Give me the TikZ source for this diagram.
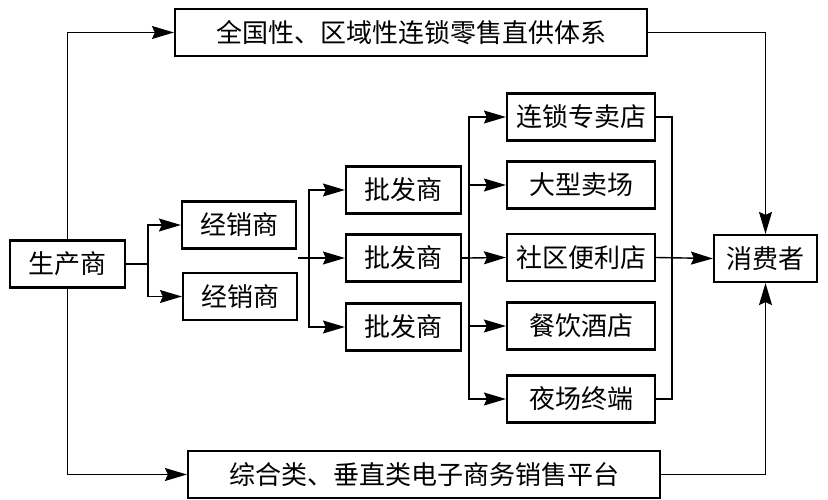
\documentclass[tikz,border=0pt]{standalone}
\usepackage{fontspec}
\newfontfamily\cjk{Noto Sans CJK SC}
\usetikzlibrary{arrows.meta}
\tikzset{
  box/.style={draw,line width=2.2pt,inner sep=0pt,minimum height=47pt,font=\cjk\fontsize{26}{30}\selectfont},
  conn/.style={line width=1.4pt},
  arr/.style={conn,arrows={-Stealth[length=22pt,width=13pt,inset=3pt]}}
}
\begin{document}
\begin{tikzpicture}[x=1pt,y=-1pt]
\useasboundingbox (0,0) rectangle (828,500);
% nodes
\node[box,minimum width=115pt] (prod) at (67.5,264) {生产商};
\node[box,minimum width=472pt] (top) at (411,32.5) {全国性、区域性连锁零售直供体系};
\node[box,minimum width=472pt] (bot) at (424,474.5) {综合类、垂直类电子商务销售平台};
\node[box,minimum width=114pt] (d1) at (239,225) {经销商};
\node[box,minimum width=114pt] (d2) at (240,296.5) {经销商};
\node[box,minimum width=115pt] (w1) at (403.5,190) {批发商};
\node[box,minimum width=115pt] (w2) at (403.5,258) {批发商};
\node[box,minimum width=115pt] (w3) at (403.5,327) {批发商};
\node[box,minimum width=148pt] (r1) at (581,117) {连锁专卖店};
\node[box,minimum width=148pt] (r2) at (581,185) {大型卖场};
\node[box,minimum width=148pt] (r3) at (581,257.5) {社区便利店};
\node[box,minimum width=148pt] (r4) at (581,326) {餐饮酒店};
\node[box,minimum width=148pt] (r5) at (581,399) {夜场终端};
\node[box,minimum width=103pt] (cons) at (765.5,258.5) {消费者};
% junction coordinates
\coordinate (j1) at (148,264);
\coordinate (s2) at (298,258);
\coordinate (j2) at (309,258);
\coordinate (j3) at (469,258);
\coordinate (j4) at (672,257.5);
% connectors
\draw[arr] (prod.north) |- (top.west);
\draw[arr] (prod.south) |- (bot.west);
\draw[conn] (prod.east) -- (j1);
\draw[arr] (j1) |- (d1.west);
\draw[arr] (j1) |- (d2.west);
\draw[arr] (s2) -- (w2.west);
\draw[arr] (j2) |- (w1.west);
\draw[arr] (j2) |- (w3.west);
\draw[conn] (w2.east) -- (j3);
\draw[arr] (j3) |- (r1.west);
\draw[arr] (j3) |- (r2.west);
\draw[arr] (j3) -- (r3.west);
\draw[arr] (j3) |- (r4.west);
\draw[arr] (j3) |- (r5.west);
\draw[conn] (r1.east) -| (j4) |- (r5.east);
\draw[arr] (r3.east) -- (cons.west);
\draw[arr] (top.east) -| (cons.north);
\draw[arr] (bot.east) -| (cons.south);
\end{tikzpicture}
\end{document}
